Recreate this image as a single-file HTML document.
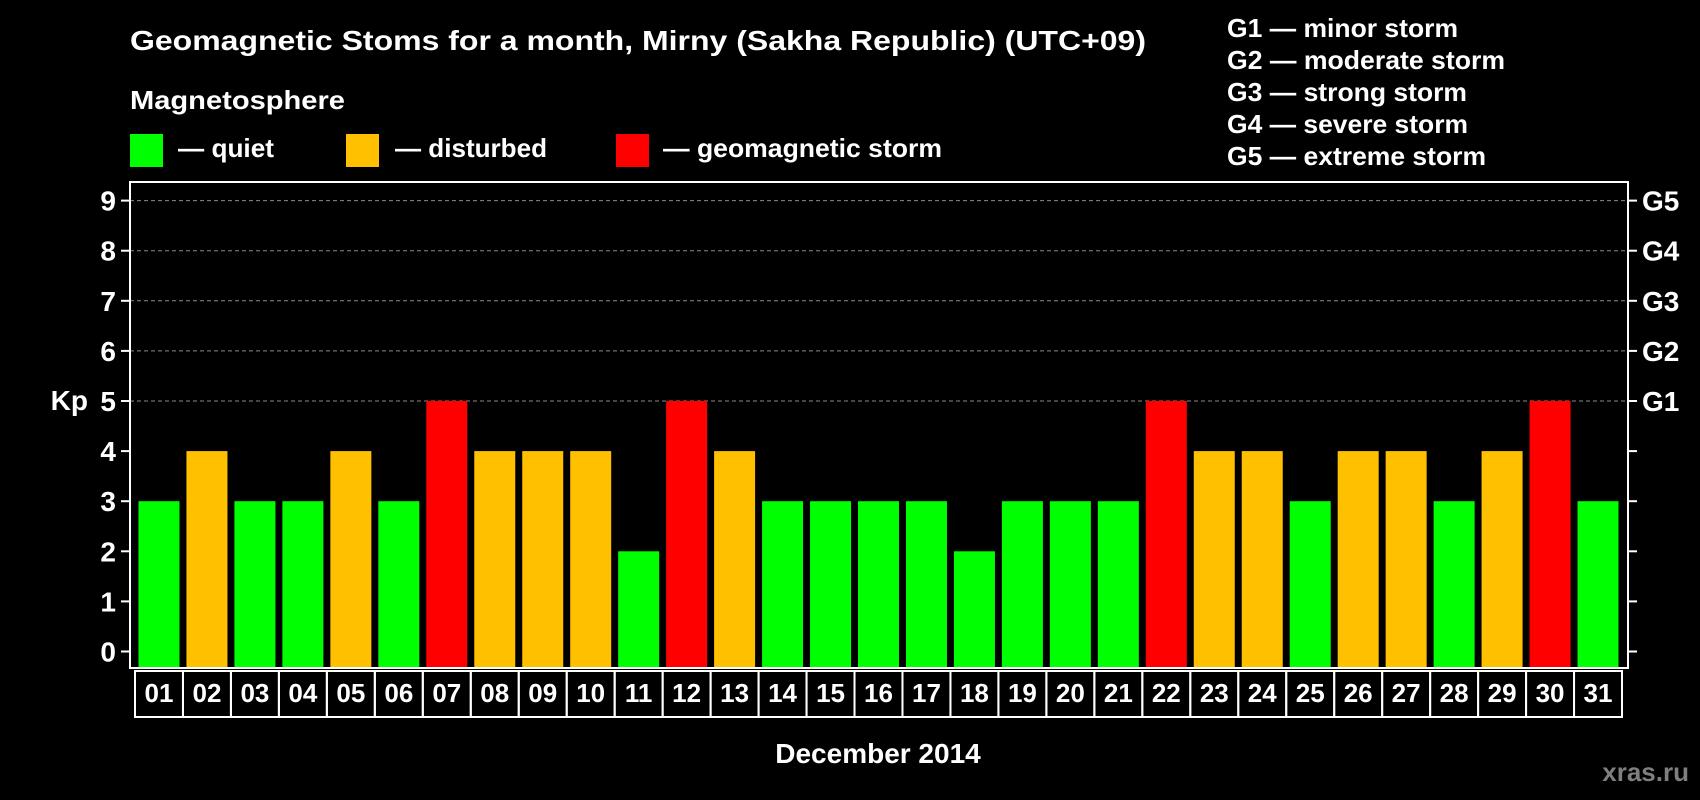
<!DOCTYPE html>
<html><head><meta charset="utf-8"><style>
html,body{margin:0;padding:0;background:#000;}
svg{display:block;font-family:"Liberation Sans",sans-serif;font-weight:bold;}
</style></head><body>
<svg id="chart" width="1700" height="800" viewBox="0 0 1700 800">
<rect x="0" y="0" width="1700" height="800" fill="#000"/>
<text x="130" y="50" font-size="28" fill="#fff" textLength="1016" lengthAdjust="spacingAndGlyphs">Geomagnetic Stoms for a month, Mirny (Sakha Republic) (UTC+09)</text>
<text x="130" y="109" font-size="26" fill="#fff" textLength="215" lengthAdjust="spacingAndGlyphs">Magnetosphere</text>
<g>
<rect x="130" y="134" width="33" height="33" fill="#00ff00"/>
<text x="178" y="157" font-size="26" fill="#fff" textLength="96" lengthAdjust="spacingAndGlyphs">— quiet</text></g>
<g>
<rect x="346" y="134" width="33" height="33" fill="#ffc000"/>
<text x="395" y="157" font-size="26" fill="#fff" textLength="152" lengthAdjust="spacingAndGlyphs">— disturbed</text></g>
<g>
<rect x="616" y="134" width="33" height="33" fill="#ff0000"/>
<text x="663" y="157" font-size="26" fill="#fff" textLength="279" lengthAdjust="spacingAndGlyphs">— geomagnetic storm</text></g>
<g>
<text x="1227" y="37" font-size="26" fill="#fff" textLength="231" lengthAdjust="spacingAndGlyphs">G1 — minor storm</text>
<text x="1227" y="69" font-size="26" fill="#fff" textLength="278" lengthAdjust="spacingAndGlyphs">G2 — moderate storm</text>
<text x="1227" y="101" font-size="26" fill="#fff" textLength="240" lengthAdjust="spacingAndGlyphs">G3 — strong storm</text>
<text x="1227" y="133" font-size="26" fill="#fff" textLength="241" lengthAdjust="spacingAndGlyphs">G4 — severe storm</text>
<text x="1227" y="165" font-size="26" fill="#fff" textLength="259" lengthAdjust="spacingAndGlyphs">G5 — extreme storm</text>
</g>
<text x="88" y="410" font-size="28" fill="#fff" text-anchor="end">Kp</text>
<text x="878" y="763" font-size="28" fill="#fff" text-anchor="middle">December 2014</text>
<text x="1689" y="781" font-size="26" fill="#7f7f7f" text-anchor="end">xras.ru</text>
<g id="grid"></g><g id="bars"></g><g id="axes"></g>
</svg>
<script>
const days = ["01","02","03","04","05","06","07","08","09","10","11","12","13","14","15","16","17","18","19","20","21","22","23","24","25","26","27","28","29","30","31"];
const kpValues = [3,4,3,3,4,3,5,4,4,4,2,5,4,3,3,3,3,2,3,3,3,5,4,4,3,4,4,3,4,5,3];
const yTicks = [0,1,2,3,4,5,6,7,8,9];
const gLabels = ["G1","G2","G3","G4","G5"];
const gLevels = [5,6,7,8,9];

const NS="http://www.w3.org/2000/svg";
const plotL=130, plotR=1628, plotT=182, plotB=668;
const y0=651.5, unit=50.1;
const bandL=135, band=(1622-135)/days.length, barW=41;
function yScale(v){return y0-v*unit;}
function xBand(i){return bandL+i*band;}
function mk(tag,attrs,parent){const e=document.createElementNS(NS,tag);for(const k in attrs)e.setAttribute(k,attrs[k]);parent.appendChild(e);return e;}
function color(v){return v>=5?"#ff0000":(v>=4?"#ffc000":"#00ff00");}
const grid=document.getElementById("grid"),bars=document.getElementById("bars"),axes=document.getElementById("axes");

gLevels.forEach(function(v){
  const l=mk("line",{x1:plotL,x2:plotR,y1:yScale(v),y2:yScale(v),stroke:"#8a8a8a","stroke-width":1,"stroke-dasharray":"4,3"},grid);
  
  
});
kpValues.forEach(function(v,i){
  const r=mk("rect",{x:xBand(i)+(band-barW)/2,y:yScale(v),width:barW,height:yScale(0)-yScale(v)+16.5,fill:color(v)},bars);
  
  
});
const frame=mk("rect",{x:plotL,y:plotT,width:plotR-plotL,height:plotB-plotT,fill:"none",stroke:"#fff","stroke-width":2},axes);


yTicks.forEach(function(v){
  const y=yScale(v);
  const t1=mk("line",{x1:121,x2:plotL,y1:y,y2:y,stroke:"#fff","stroke-width":2},axes);
  
  
  const t2=mk("line",{x1:plotR,x2:1637,y1:y,y2:y,stroke:"#fff","stroke-width":2},axes);
  
  
  const tx=mk("text",{x:116,y:y+10,"font-size":28,fill:"#fff","text-anchor":"end"},axes);
  tx.textContent=String(v);
  
  
});
gLabels.forEach(function(g,i){
  const tx=mk("text",{x:1642,y:yScale(gLevels[i])+10,"font-size":28,fill:"#fff"},axes);
  tx.textContent=g;
  
  
});
days.forEach(function(d,i){
  const b=mk("rect",{x:xBand(i),y:671,width:band,height:46,fill:"none",stroke:"#fff","stroke-width":2},axes);
  
  
  const tx=mk("text",{x:xBand(i)+band/2,y:702,"font-size":26,fill:"#fff","text-anchor":"middle"},axes);
  tx.textContent=d;
  
  
});
</script>
</body></html>
